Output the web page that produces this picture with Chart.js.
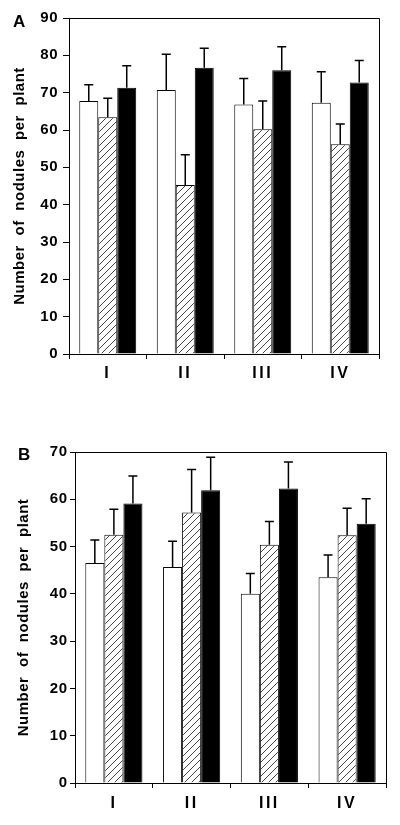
<!DOCTYPE html>
<html><head><meta charset="utf-8">
<script src="https://cdn.jsdelivr.net/npm/chart.js@4.4.1/dist/chart.umd.min.js"></script>
<style>
html,body{margin:0;padding:0;background:#fff;}
#wrap{position:relative;width:400px;height:825px;overflow:hidden;background:#fff;}
canvas{position:absolute;left:0;}
#cA{top:0;} #cB{top:400px;}
</style></head><body>
<div id="wrap"><canvas id="cA" width="400" height="400"></canvas><canvas id="cB" width="400" height="425"></canvas></div>
<script>
// ---- data ----
const categories = ['I', 'II', 'III', 'IV'];
const yTitle = 'Number of nodules per plant';

// Panel A
const aOpen = [67.8, 70.7, 66.8, 67.3];
const aOpenErr = [4.3, 9.6, 7.0, 8.3];
const aHatched = [63.4, 45.3, 60.2, 56.2];
const aHatchedErr = [5.1, 8.1, 7.6, 5.4];
const aFilled = [71.3, 76.7, 76.0, 72.7];
const aFilledErr = [5.9, 5.2, 6.3, 5.9];
const aYMax = 90;

// Panel B
const bOpen = [46.5, 45.7, 40.0, 43.5];
const bOpenErr = [4.9, 5.4, 4.3, 4.7];
const bHatched = [52.5, 57.2, 50.4, 52.4];
const bHatchedErr = [5.4, 9.1, 4.9, 5.7];
const bFilled = [59.1, 61.9, 62.3, 54.8];
const bFilledErr = [5.8, 7.0, 5.6, 5.3];
const bYMax = 70;

const yStep = 10;
const FONT = '"Liberation Sans", Arial, Helvetica, sans-serif';

function hatchPattern() {
  const s = 7;
  const c = document.createElement('canvas');
  c.width = s; c.height = s;
  const g = c.getContext('2d');
  g.fillStyle = '#fff'; g.fillRect(0, 0, s, s);
  g.strokeStyle = '#333'; g.lineWidth = 0.9;
  g.beginPath();
  g.moveTo(0, s); g.lineTo(s, 0);
  g.moveTo(-1, 1); g.lineTo(1, -1);
  g.moveTo(s - 1, s + 1); g.lineTo(s + 1, s - 1);
  g.stroke();
  return g.createPattern(c, 'repeat');
}

const panelPlugin = {
  id: 'panelPlugin',
  beforeDraw(chart) {
    chart.ctx.letterSpacing = '0.5px';
    chart.ctx.wordSpacing = '5px';
  },
  afterDatasetsDraw(chart, args, opts) {
    const ctx = chart.ctx;
    const ys = chart.scales.y;
    ctx.save();
    ctx.strokeStyle = '#000';
    ctx.lineWidth = 1.5;
    chart.data.datasets.forEach((ds, i) => {
      const meta = chart.getDatasetMeta(i);
      meta.data.forEach((bar, j) => {
        const top = ys.getPixelForValue(ds.data[j] + ds.errors[j]);
        ctx.beginPath();
        ctx.moveTo(bar.x, bar.y);
        ctx.lineTo(bar.x, top);
        ctx.moveTo(bar.x - 4.5, top);
        ctx.lineTo(bar.x + 4.5, top);
        ctx.stroke();
      });
    });
    const a = chart.chartArea;
    ctx.lineWidth = 1;
    ctx.beginPath();
    ctx.moveTo(Math.round(a.left), Math.round(a.top) + 0.5);
    ctx.lineTo(Math.round(a.right) + 0.5, Math.round(a.top) + 0.5);
    ctx.lineTo(Math.round(a.right) + 0.5, Math.round(a.bottom));
    ctx.stroke();
    ctx.restore();
    ctx.wordSpacing = '0px';
    ctx.letterSpacing = '2.5px';
  },
  afterDraw(chart, args, opts) {
    const ctx = chart.ctx;
    ctx.letterSpacing = '0px';
    ctx.wordSpacing = '0px';
    ctx.save();
    ctx.font = 'bold 17px ' + FONT;
    ctx.fillStyle = '#000';
    ctx.textBaseline = 'alphabetic';
    ctx.textAlign = 'left';
    ctx.fillText(opts.letter, opts.lx, opts.ly);
    ctx.restore();
  }
};

function makeChart(id, d, g) {
  const pat = hatchPattern();
  return new Chart(document.getElementById(id), {
    type: 'bar',
    data: {
      labels: categories,
      datasets: [
        { data: d.open, errors: d.openErr, backgroundColor: '#fff', borderColor: '#000', borderWidth: 1 },
        { data: d.hatched, errors: d.hatchedErr, backgroundColor: pat, borderColor: '#000', borderWidth: 1 },
        { data: d.filled, errors: d.filledErr, backgroundColor: '#000', borderColor: '#000', borderWidth: 1 }
      ]
    },
    options: {
      responsive: false,
      animation: false,
      events: [],
      categoryPercentage: 0.735,
      barPercentage: 1.0,
      layout: { padding: { top: g.padTop, right: g.padRight, left: 0, bottom: 0 } },
      plugins: {
        legend: { display: false },
        tooltip: { enabled: false },
        panelPlugin: { letter: g.letter, lx: g.lx, ly: g.ly }
      },
      scales: {
        x: {
          afterFit: (s) => { s.height = g.xHeight; },
          grid: { display: true, drawOnChartArea: false, drawTicks: true, tickLength: 5, color: '#000', lineWidth: 1, offset: true },
          border: { display: true, color: '#000', width: 1 },
          ticks: { color: '#000', font: { family: FONT, size: 16, weight: 'bold' }, padding: g.xPad, z: 1, maxRotation: 0 }
        },
        y: {
          min: 0, max: d.yMax,
          afterFit: (s) => { s.width = g.yWidth; },
          grid: { display: true, drawOnChartArea: false, drawTicks: true, tickLength: g.yTick, color: '#000', lineWidth: 1 },
          border: { display: true, color: '#000', width: 1 },
          ticks: { stepSize: yStep, color: '#000', font: { family: FONT, size: 15, weight: 'bold' }, padding: g.yPad },
          title: { display: true, text: yTitle, color: '#000', font: { family: FONT, size: 15, weight: 'bold' }, padding: { top: g.titlePad, bottom: 0 } }
        }
      }
    },
    plugins: [panelPlugin]
  });
}

makeChart('cA',
  { open: aOpen, openErr: aOpenErr, hatched: aHatched, hatchedErr: aHatchedErr, filled: aFilled, filledErr: aFilledErr, yMax: aYMax },
  { padTop: 18, padRight: 21, yWidth: 69, xHeight: 46, yTick: 6, yPad: 5, xPad: 4.5, titlePad: 11, letter: 'A', lx: 13, ly: 27 });

makeChart('cB',
  { open: bOpen, openErr: bOpenErr, hatched: bHatched, hatchedErr: bHatchedErr, filled: bFilled, filledErr: bFilledErr, yMax: bYMax },
  { padTop: 52, padRight: 14, yWidth: 75, xHeight: 42, yTick: 5, yPad: 2.5, xPad: 6, titlePad: 15, letter: 'B', lx: 18, ly: 60 });
</script>
</body></html>
